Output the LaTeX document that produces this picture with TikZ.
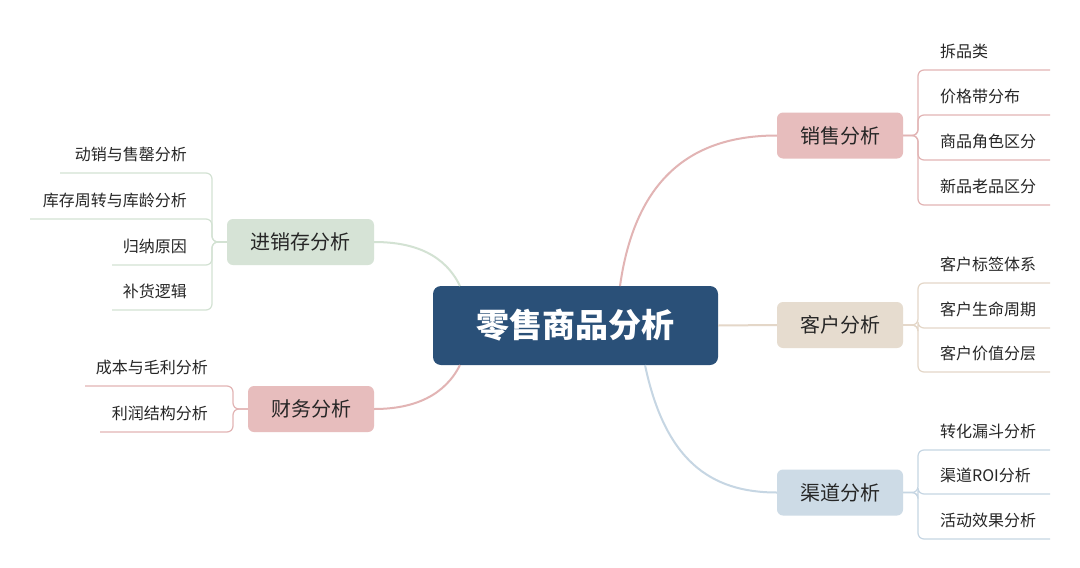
\documentclass[tikz,border=0pt]{standalone}
\usepackage{fontspec}
\setmainfont{Noto Sans CJK SC}
\begin{document}
\begin{tikzpicture}[x=1pt,y=-1pt,
  box/.style={rounded corners=6pt,minimum width=126pt,minimum height=46pt,font=\fontsize{20}{24}\selectfont,text=black!85},
  leafr/.style={anchor=south west,inner xsep=22pt,inner ysep=11pt,font=\fontsize{16}{19}\selectfont,text=black!85},
  leafl/.style={anchor=south east,inner xsep=18pt,inner ysep=11pt,font=\fontsize{16}{19}\selectfont,text=black!85}]
\definecolor{cblue}{HTML}{2A5078}
\definecolor{cpink}{HTML}{E7BDBD}
\definecolor{cbeige}{HTML}{E6DCCF}
\definecolor{clblue}{HTML}{CDDBE6}
\definecolor{cgreen}{HTML}{D6E3D6}
\definecolor{lpink}{HTML}{E2B4B4}
\definecolor{lbeige}{HTML}{E4D7C8}
\definecolor{llblue}{HTML}{C6D6E3}
\definecolor{lgreen}{HTML}{D3E2D3}
\useasboundingbox (0,0) rectangle (1080,568);
\fill[white] (0,0) rectangle (1080,568);
\node[fill=cblue,rounded corners=8pt,minimum width=285pt,minimum height=79pt,text=white,font=\fontsize{33}{38}\selectfont\bfseries] (c) at (575.5,325.5) {零售商品分析};
\node[box,fill=cpink] (s) at (840,135.5) {销售分析};
\node[box,fill=cbeige] (k) at (840,325) {客户分析};
\node[box,fill=clblue] (q) at (840,492.5) {渠道分析};
\node[box,fill=cgreen,minimum width=147pt] (j) at (300.5,242) {进销存分析};
\node[box,fill=cpink] (f) at (311,409) {财务分析};
\draw[lpink,line width=2pt] (620,286) .. controls (635,180) and (690,135.5) .. (s.west);
\draw[lbeige,line width=2pt] (c.east) -- (k.west);
\draw[llblue,line width=2pt] (645,365) .. controls (665,460) and (710,492.5) .. (q.west);
\draw[lgreen,line width=2pt] (460,286) .. controls (445,255) and (415,242) .. (j.east);
\draw[lpink,line width=2pt] (460,365) .. controls (445,395) and (415,409) .. (f.east);
% right leaves
\foreach \t/\y [count=\i] in {拆品类/70,价格带分布/115,商品角色区分/160,新品老品区分/205}{
  \node[leafr] (s\i) at (918,\y) {\t};
  \draw[lpink,line width=1.2pt,rounded corners=6pt] (s.east) -| (918,\y) -- (1050,\y);}
\foreach \t/\y [count=\i] in {客户标签体系/283,客户生命周期/328,客户价值分层/372}{
  \node[leafr] (k\i) at (918,\y) {\t};
  \draw[lbeige,line width=1.2pt,rounded corners=6pt] (k.east) -| (918,\y) -- (1050,\y);}
\foreach \t/\y [count=\i] in {转化漏斗分析/450,渠道ROI分析/494,活动效果分析/539}{
  \node[leafr] (q\i) at (918,\y) {\t};
  \draw[llblue,line width=1.2pt,rounded corners=6pt] (q.east) -| (918,\y) -- (1050,\y);}
% left leaves
\foreach \t/\y/\xl [count=\i] in {动销与售罄分析/173/60,库存周转与库龄分析/219/30,归纳原因/265/112,补货逻辑/310/112}{
  \node[leafl] (j\i) at (205,\y) {\t};
  \draw[lgreen,line width=1.2pt,rounded corners=6pt] (j.west) -| (212,\y) -- (\xl,\y);}
\foreach \t/\y/\xl [count=\i] in {成本与毛利分析/386/85,利润结构分析/432/100}{
  \node[leafl] (f\i) at (226,\y) {\t};
  \draw[lpink,line width=1.2pt,rounded corners=6pt] (f.west) -| (233,\y) -- (\xl,\y);}
\end{tikzpicture}
\end{document}
